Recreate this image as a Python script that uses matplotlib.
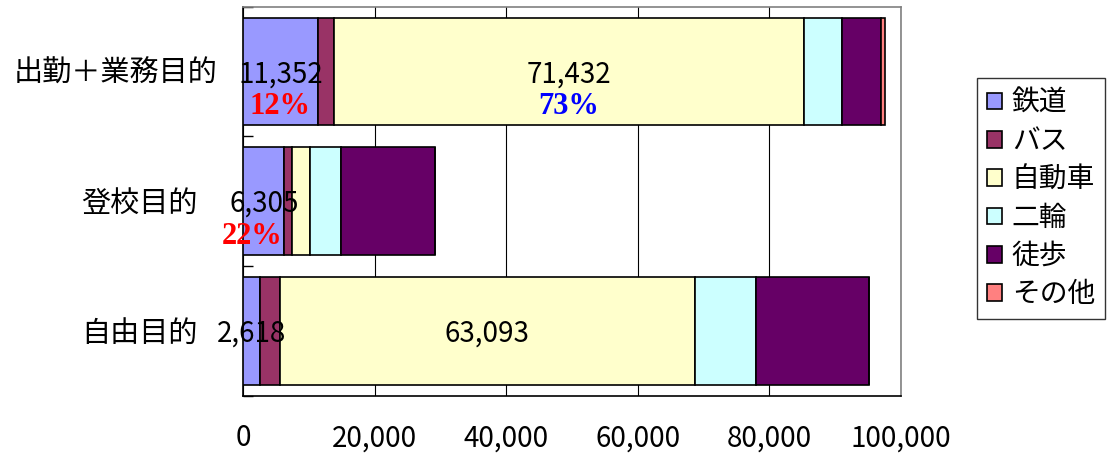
import matplotlib
matplotlib.use("Agg")
import matplotlib.pyplot as plt
import matplotlib.transforms as mtransforms
import numpy as np

categories = ['出勤＋業務目的', '登校目的', '自由目的']
modes = ['鉄道', 'バス', '自動車', '二輪', '徒歩', 'その他']
rail = [11352, 6305, 2618]
bus = [2500, 1200, 2960]
car = [71432, 2740, 63093]
bike = [5780, 4630, 9300]
walk = [5930, 14300, 17200]
other = [600, 0, 0]
colors = ['#9999FF', '#993366', '#FFFFCC', '#CCFFFF', '#660066', '#FF8080']
xticks = [0, 20000, 40000, 60000, 80000, 100000]
xticklabels = ['0', '20,000', '40,000', '60,000', '80,000', '100,000']
pct_labels = {(0, 0): ('12%', 'red'), (0, 2): ('73%', 'blue'), (1, 0): ('22%', 'red')}
value_labels = {(0, 0): '11,352', (0, 2): '71,432', (1, 0): '6,305', (2, 0): '2,618', (2, 2): '63,093'}

JP = ['Noto Sans CJK JP', 'DejaVu Sans']
plt.rcParams['font.family'] = JP

fig = plt.figure(figsize=(11.10, 4.53), dpi=100)
ax = fig.add_axes([243/1110, 1-395.7/453, (901-243)/1110, (395.7-6.7)/453])

series = [rail, bus, car, bike, walk, other]
y = np.arange(len(categories))
left = np.zeros(len(categories))
lefts = []
for vals, col, name in zip(series, colors, modes):
    vals = np.array(vals, dtype=float)
    ax.barh(y, vals, left=left, height=0.83, color=col, edgecolor='black',
            linewidth=1.2, label=name, zorder=3)
    lefts.append(left.copy())
    left = left + vals

for (ci, si), txt in value_labels.items():
    xc = lefts[si][ci] + series[si][ci] / 2
    ax.text(xc, y[ci] + 0.02, txt, ha='center', va='center', fontsize=20,
            family=JP, zorder=5)
for (ci, si), (txt, col) in pct_labels.items():
    xc = lefts[si][ci] + series[si][ci] / 2
    if ci == 1:
        xc = lefts[si][ci] + 1400
    ax.text(xc, y[ci] + 0.27, txt, ha='center', va='center', fontsize=22,
            family=['Liberation Serif'], fontweight='bold', color=col, zorder=5)

ax.set_xlim(0, 100000)
ax.set_ylim(2.5, -0.5)
ax.set_xticks(xticks)
ax.set_xticklabels(xticklabels, fontsize=20)
ax.tick_params(axis='x', length=0, pad=20)
ax.set_yticks([])
ax.set_yticks([-0.5, 0.5, 1.5, 2.5], minor=True)
ax.tick_params(axis='y', which='minor', direction='in', length=7, width=1, color='black')
ax.grid(axis='x', color='black', linewidth=0.8, zorder=0)
ax.set_axisbelow(True)
for s in ['top', 'right']:
    ax.spines[s].set_color('#808080')
    ax.spines[s].set_linewidth(1.2)
for s in ['left', 'bottom']:
    ax.spines[s].set_color('black')
    ax.spines[s].set_linewidth(1.2)

trans = mtransforms.blended_transform_factory(ax.transAxes, ax.transData)
label_x = [-(243-218)/658, -(243-198)/658, -(243-198)/658]
for ci, cat in enumerate(categories):
    ax.text(label_x[ci], y[ci] + 0.02, cat, transform=trans, ha='right', va='center',
            fontsize=21, family=JP)

leg = fig.legend(loc='upper left', bbox_to_anchor=(977/1110, 1-78/453),
                 fontsize=20, frameon=True, fancybox=False, shadow=False,
                 handlelength=0.55, handleheight=0.55, handletextpad=0.35,
                 labelspacing=0.3, borderpad=0.35, borderaxespad=0)
leg.get_frame().set_edgecolor('black')
leg.get_frame().set_linewidth(1.0)

fig.savefig('out.png', dpi=100)
